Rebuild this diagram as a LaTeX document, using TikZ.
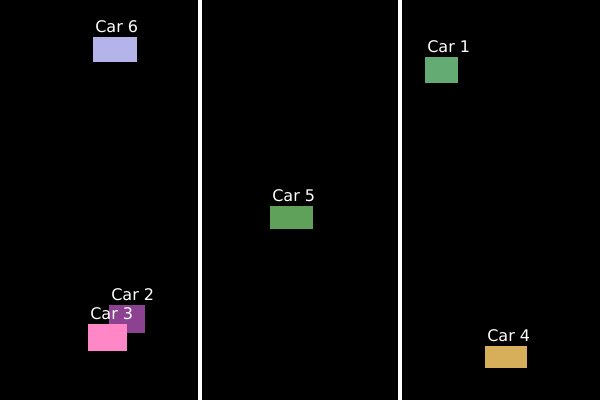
\documentclass[tikz,border=0pt]{standalone}
\usepackage{fontspec}
\setmainfont{DejaVu Sans}
\usetikzlibrary{positioning}
\definecolor{lavender}{RGB}{180, 180, 235}
\definecolor{plum}{RGB}{140, 65, 145}
\definecolor{candy}{RGB}{255, 135, 200}
\definecolor{grass}{RGB}{95, 160, 90}
\definecolor{sage}{RGB}{100, 170, 115}
\definecolor{mustard}{RGB}{215, 175, 90}

\begin{document}
\begin{tikzpicture}[x=0.025cm, y=-0.025cm,
      car/.style={anchor=north west, inner sep=0pt, draw=none},
      lbl/.style={inner sep=0pt, text=white, font=\fontsize{11.4}{12}\selectfont},
      lane/.style={white, line width=2.4pt}]
    \useasboundingbox (0,0) rectangle (600,400);
    \fill[black] (0,0) rectangle (600,400);
    \draw[lane] (200,0) -- (200,400);
    \draw[lane] (400,0) -- (400,400);
    % cars
    \node[car, fill=lavender, minimum width=1.1cm, minimum height=0.625cm] (car6) at (93,37) {};
    \node[car, fill=plum, minimum width=0.9cm, minimum height=0.7cm] (car2) at (109,305) {};
    \node[car, fill=candy, minimum width=0.975cm, minimum height=0.675cm] (car3) at (88,324) {};
    \node[car, fill=grass, minimum width=1.075cm, minimum height=0.575cm] (car5) at (270,206) {};
    \node[car, fill=sage, minimum width=0.825cm, minimum height=0.65cm] (car1) at (425,57) {};
    \node[car, fill=mustard, minimum width=1.05cm, minimum height=0.55cm] (car4) at (485,346) {};
    % labels
    \node[lbl, above right=1mm and 0.5mm of car6.north west] (l6) {Car 6};
    \node[lbl, above right=1mm and 0.5mm of car2.north west] (l2) {Car 2};
    \node[lbl, above right=1mm and 0.5mm of car3.north west] (l3) {Car 3};
    \node[lbl, above right=1mm and 0.5mm of car5.north west] (l5) {Car 5};
    \node[lbl, above right=1mm and 0.5mm of car1.north west] (l1) {Car 1};
    \node[lbl, above right=1mm and 0.5mm of car4.north west] (l4) {Car 4};
  \end{tikzpicture}
\end{document}
